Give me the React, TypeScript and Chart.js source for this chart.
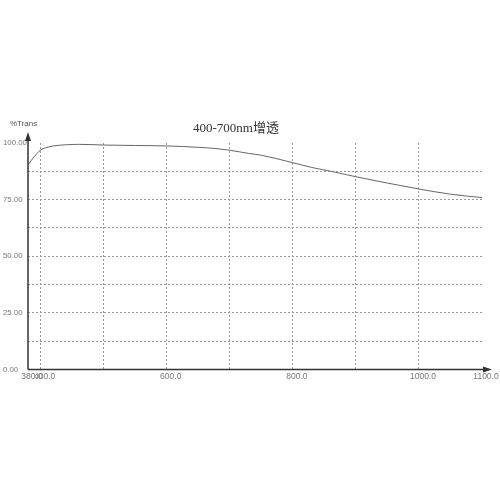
import React, { useEffect, useRef } from 'react';
import { Chart, registerables } from 'chart.js';

Chart.register(...registerables);

// wavelength (nm) and transmittance (%)
const wavelengths = [380, 390, 400, 410, 420, 440, 460, 480, 500, 550, 600, 650, 680, 700, 730, 750, 800, 830, 864, 900, 950, 1000, 1050, 1100];
const transmittance = [90.3, 94.0, 96.9, 98.0, 98.7, 99.2, 99.4, 99.3, 99.1, 98.9, 98.7, 98.1, 97.5, 96.8, 95.4, 94.6, 91.3, 89.2, 87.3, 85.1, 82.3, 79.7, 77.4, 75.9];

const xTicks = [380, 400, 500, 600, 700, 800, 900, 1000, 1100];
const xLabelled = [380, 400, 600, 800, 1000, 1100];
const yLabelled = [0, 25, 50, 75, 100];

const titleText = '400-700nm增透';
const yUnitText = '%Trans';

const decorPlugin = {
  id: 'decor',
  afterDraw(chart: Chart) {
    const { ctx, chartArea } = chart;
    const { left, bottom } = chartArea;
    ctx.save();
    ctx.strokeStyle = '#333';
    ctx.fillStyle = '#333';
    ctx.lineWidth = 1.5;
    // y axis with arrow
    ctx.beginPath();
    ctx.moveTo(left, bottom);
    ctx.lineTo(left, 135);
    ctx.stroke();
    ctx.beginPath();
    ctx.moveTo(left, 132);
    ctx.lineTo(left - 3, 141);
    ctx.lineTo(left + 3, 141);
    ctx.closePath();
    ctx.fill();
    // x axis with arrow
    ctx.beginPath();
    ctx.moveTo(left, bottom);
    ctx.lineTo(489, bottom);
    ctx.stroke();
    ctx.beginPath();
    ctx.moveTo(492, bottom);
    ctx.lineTo(483, bottom - 3);
    ctx.lineTo(483, bottom + 3);
    ctx.closePath();
    ctx.fill();

    ctx.fillStyle = '#555';
    ctx.font = '8px "Liberation Sans", sans-serif';
    ctx.textAlign = 'left';
    ctx.textBaseline = 'middle';
    ctx.fillText(yUnitText, 10, 124);

    ctx.fillStyle = '#333';
    ctx.font = '13px "Liberation Serif", "Noto Sans CJK SC", serif';
    ctx.textAlign = 'center';
    ctx.fillText(titleText, 236, 129);
    ctx.restore();
  },
};

const App: React.FC = () => {
  const chartRef = useRef<HTMLCanvasElement | null>(null);
  const chartInstance = useRef<Chart | null>(null);

  useEffect(() => {
    if (!chartRef.current) return;
    if (chartInstance.current) chartInstance.current.destroy();
    const ctx = chartRef.current.getContext('2d');
    if (!ctx) return;

    const gridDash = [2, 2];

    chartInstance.current = new Chart(ctx, {
      type: 'line',
      data: {
        datasets: [
          {
            data: wavelengths.map((w, i) => ({ x: w, y: transmittance[i] })),
            borderColor: '#666',
            borderWidth: 1,
            pointRadius: 0,
            cubicInterpolationMode: 'monotone',
            fill: false,
          },
        ],
      },
      options: {
        responsive: false,
        animation: false,
        layout: { padding: { left: 3, top: 143, right: 18, bottom: 0 } },
        plugins: { legend: { display: false }, tooltip: { enabled: false }, title: { display: false } },
        scales: {
          x: {
            type: 'linear',
            min: 380,
            max: 1100,
            afterBuildTicks: (scale: any) => {
              scale.ticks = xTicks.map((v) => ({ value: v }));
            },
            afterFit: (scale: any) => {
              scale.height = 130.5;
              scale.paddingLeft = 0;
              scale.paddingRight = 0;
            },
            border: { display: false, dash: gridDash },
            grid: {
              drawTicks: false,
              lineWidth: 1,
              color: (c: any) => (c.tick && (c.tick.value === 380 || c.tick.value === 1100) ? 'rgba(0,0,0,0)' : '#999'),
            },
            ticks: {
              autoSkip: false,
              maxRotation: 0,
              padding: 2,
              labelOffset: 4,
              color: '#777',
              font: { size: 8.5, family: '"Liberation Sans", sans-serif' },
              callback: (v: any) => (xLabelled.includes(Number(v)) ? Number(v).toFixed(1) : ''),
            },
          },
          y: {
            type: 'linear',
            min: 0,
            max: 100,
            afterFit: (scale: any) => {
              scale.width = 25;
              scale.paddingTop = 0;
              scale.paddingBottom = 0;
            },
            border: { display: false, dash: gridDash },
            grid: {
              drawTicks: false,
              lineWidth: 1,
              color: (c: any) => (c.tick && (c.tick.value === 0 || c.tick.value === 100) ? 'rgba(0,0,0,0)' : '#999'),
            },
            ticks: {
              stepSize: 12.5,
              autoSkip: false,
              crossAlign: 'far',
              padding: 2,
              color: '#777',
              font: { size: 7.8, family: '"Liberation Sans", sans-serif' },
              callback: (v: any) => (yLabelled.includes(Number(v)) ? Number(v).toFixed(2) : ''),
            },
          },
        },
      },
      plugins: [decorPlugin],
    });

    return () => {
      if (chartInstance.current) {
        chartInstance.current.destroy();
        chartInstance.current = null;
      }
    };
  }, []);

  return (
    <div style={{ position: 'absolute', left: 0, top: 0, width: 500, height: 500, background: '#fff' }}>
      <canvas ref={chartRef} width={500} height={500} />
    </div>
  );
};

export default App;
